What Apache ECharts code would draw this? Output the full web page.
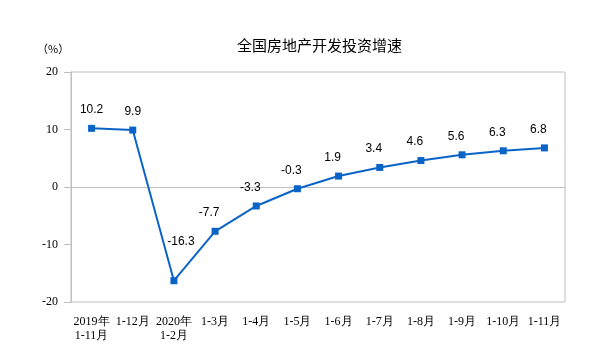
<!DOCTYPE html>
<html><head><meta charset="utf-8">
<script src="https://cdn.jsdelivr.net/npm/echarts@6/dist/echarts.min.js"></script>
<style>html,body{margin:0;padding:0;background:#fff}#c{width:602px;height:361px}</style>
</head><body><div id="c"></div>
<script>
const categories = ['2019年\n1-11月','1-12月','2020年\n1-2月','1-3月','1-4月','1-5月','1-6月','1-7月','1-8月','1-9月','1-10月','1-11月'];
const growth = [10.2, 9.9, -16.3, -7.7, -3.3, -0.3, 1.9, 3.4, 4.6, 5.6, 6.3, 6.8];
const yTicks = [-20, -10, 0, 10, 20];

const chart = echarts.init(document.getElementById('c'), null, {renderer:'canvas'});
const labelOffsets = growth.map((v,i)=> i===2 ? [7,-24] : (i<2 ? [0,-3] : [-6,-3]));
chart.setOption({
  animation:false,
  title:{text:'全国房地产开发投资增速', left:232, top:33,
    textStyle:{fontFamily:'Noto Sans CJK SC', fontSize:15, fontWeight:'normal', color:'#000'}},
  graphic:[{type:'text', left:37, top:43, style:{text:'（%）', font:'11px "Noto Sans CJK SC"', fill:'#000'}}],
  grid:{left:71, right:37, top:72, bottom:59, show:true, borderColor:'#bfbfbf', borderWidth:1},
  xAxis:{type:'category', data:categories, boundaryGap:true,
    axisLine:{lineStyle:{color:'#bfbfbf'}},
    axisTick:{inside:true, length:4, lineStyle:{color:'#bfbfbf'}},
    axisLabel:{color:'#000', fontFamily:'Liberation Serif', fontSize:12, margin:13, lineHeight:14, interval:0}},
  yAxis:{type:'value', min:yTicks[0], max:yTicks[yTicks.length-1], interval:10,
    splitLine:{show:false},
    axisLine:{show:true, lineStyle:{color:'#bfbfbf'}},
    axisTick:{show:true, length:7, lineStyle:{color:'#bfbfbf'}},
    axisLabel:{color:'#000', fontFamily:'Liberation Serif', fontSize:12, margin:13}},
  series:[{type:'line', data:growth.map((v,i)=>({value:v, label:{offset:labelOffsets[i]}})),
    symbol:'rect', symbolSize:7, itemStyle:{color:'#0a64c8'},
    lineStyle:{color:'#0a64c8', width:2},
    label:{show:true, position:'top', distance:6, color:'#000', fontFamily:'Liberation Sans', fontSize:12,
      formatter:p=>p.value.toFixed(1)}}]
});
</script></body></html>
